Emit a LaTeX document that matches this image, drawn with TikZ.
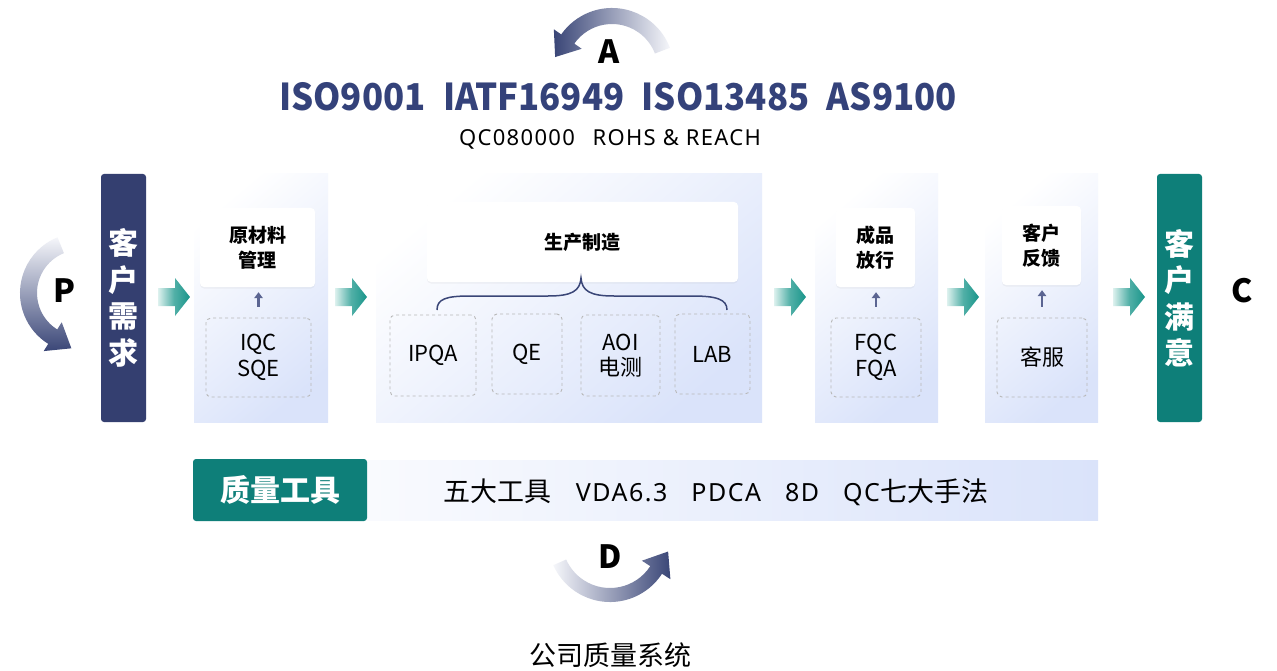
\documentclass[tikz,border=0pt]{standalone}
\usepackage{fontspec}
\setmainfont{Noto Sans CJK SC}
\newfontfamily\latf{Noto Sans}
\usetikzlibrary{calc,shadows,arrows.meta}
\definecolor{navy}{HTML}{343F70}
\definecolor{titlec}{HTML}{34427A}
\definecolor{tealbox}{HTML}{0E7F79}
\definecolor{chev}{HTML}{18958A}
\definecolor{chevl}{HTML}{DDF1EE}
\definecolor{panelb}{HTML}{DAE3FA}
\definecolor{arrowd}{HTML}{3A4677}
\definecolor{arrowl}{HTML}{F5F6FA}
\definecolor{dashc}{HTML}{B8B8B8}
\definecolor{bracec}{HTML}{3A4677}
\definecolor{uparr}{HTML}{5B6592}
\newcommand\fs[2]{\fontsize{#1}{#2}\selectfont}
\newcommand\lt[2]{{\latf\fontsize{#1}{#1}\selectfont\addfontfeatures{LetterSpace=6}#2}}
\newcommand\chevat[1]{\shade[left color=chevl, right color=chev, middle color=chev!75] (#1,-288) -- ++(17,0) -- ++(0,10) -- ++(15,-19) -- ++(-15,-19) -- ++(0,10) -- ++(-17,0) -- cycle;}
\newcommand\curvarrow[6]{%
 \pgfmathsetmacro\cRm{(#4+#5)/2}\pgfmathsetmacro\cRa{\cRm+17}\pgfmathsetmacro\cRb{\cRm-17}\pgfmathsetmacro\cAt{#3+90}%
 \shade[#6] ($(#1)+(#2:#4)$) arc[start angle=#2, end angle=#3, radius=#4] -- ($(#1)+(#3:\cRa)$) -- ($(#1)+(#3:\cRm)+(\cAt:22)$) -- ($(#1)+(#3:\cRb)$) -- ($(#1)+(#3:#5)$) arc[start angle=#3, end angle=#2, radius=#5] -- cycle;}
\begin{document}
\begin{tikzpicture}[x=1pt,y=1pt,
  panel/.style={shading=axis, top color=white, bottom color=panelb, shading angle=40, minimum height=248pt, inner sep=0pt},
  vbar/.style={rounded corners=3pt, minimum width=45pt, minimum height=248pt, text=white, align=center, inner sep=0pt, font=\fs{30}{36.5}\bfseries},
  wbox/.style={fill=white, rounded corners=4pt, align=center, inner sep=0pt, font=\fs{19}{25}\bfseries, drop shadow={shadow xshift=0pt, shadow yshift=-1.5pt, opacity=0.08}},
  dbox/.style={draw=dashc, dashed, line width=0.9pt, rounded corners=5pt, align=center, inner sep=0pt, font=\fs{22}{25.5}},
  uparrow/.style={draw=uparr, line width=2.8pt, -{Triangle[length=6pt,width=8.5pt]}, shorten <=11pt, shorten >=5pt},
  letter/.style={font=\fs{32}{32}\bfseries, inner sep=0pt}
]
\useasboundingbox (0,0) rectangle (1277,-671);
\fill[white] (0,0) rectangle (1277,-671);

% curved PDCA arrows
\coordinate (ca) at (612,-70);
\curvarrow{ca}{21}{145}{62}{46}{left color=arrowd, right color=arrowl}
\coordinate (cp) at (80,-293);
\curvarrow{cp}{112}{238}{60}{43}{top color=arrowl, bottom color=arrowd}
\coordinate (cd) at (610,-540);
\curvarrow{cd}{204}{327}{62}{48}{left color=arrowl, right color=arrowd}
\node[letter] (la) at (609,-52) {A};
\node[letter] (lp) at (64,-291) {P};
\node[letter] (lc) at (1242,-291) {C};
\node[letter] (ld) at (610,-557) {D};

% titles
\node[text=titlec, font=\fs{37}{37}\bfseries, inner sep=0pt, xscale=0.94] (std) at (618,-97) {ISO9001\hspace{0.5em}IATF16949\hspace{0.5em}ISO13485\hspace{0.5em}AS9100};
\node[inner sep=0pt] (std2) at (610,-139) {\lt{22}{QC080000\hspace{0.8em}ROHS \& REACH}};

% side bars
\node[vbar, fill=navy] (req) at (123.5,-298) {客\\户\\需\\求};
\node[vbar, fill=tealbox] (sat) at (1179.5,-298) {客\\户\\满\\意};

% panels
\node[panel, minimum width=134pt] (p1) at (261,-298) {};
\node[panel, minimum width=386pt] (p2) at (569,-298) {};
\node[panel, minimum width=123pt] (p3) at (876.5,-298) {};
\node[panel, minimum width=113pt] (p4) at (1041.5,-298) {};

% chevrons
\chevat{158}
\chevat{335}
\chevat{774}
\chevat{947}
\chevat{1113}

% white boxes
\node[wbox, minimum width=115pt, minimum height=79pt] (w1) at (257.5,-247.5) {原材料\\管理};
\node[wbox, minimum width=311pt, minimum height=80pt] (w2) at (582.5,-242) {生产制造};
\node[wbox, minimum width=79pt, minimum height=79pt] (w3) at (875.5,-247.5) {成品\\放行};
\node[wbox, minimum width=79pt, minimum height=79pt] (w4) at (1041.5,-245.5) {客户\\反馈};

% dashed boxes
\node[dbox, minimum width=105pt, minimum height=79pt] (d1) at (258.5,-357.5) {IQC\\SQE};
\node[dbox, minimum width=86pt, minimum height=81pt] (ipqa) at (433,-355.5) {IPQA};
\node[dbox, minimum width=70pt, minimum height=80pt] (qe) at (527,-354) {QE};
\node[dbox, minimum width=79pt, minimum height=81pt] (aoi) at (620.5,-355.5) {AOI\\电测};
\node[dbox, minimum width=75pt, minimum height=80pt] (lab) at (712.5,-354) {LAB};
\node[dbox, minimum width=90pt, minimum height=79pt] (d3) at (876,-357.5) {FQC\\FQA};
\node[dbox, minimum width=90pt, minimum height=79pt] (d4) at (1042,-357.5) {客服};

% up arrows
\draw[uparrow] (d1.north) -- (d1.north |- w1.south);
\draw[uparrow] (d3.north) -- (d3.north |- w3.south);
\draw[uparrow] (d4.north) -- (d4.north |- w4.south);

% brace
\draw[bracec, line width=1.5pt] (437,-310) .. controls (437,-299) and (446,-296) .. (470,-296) -- (548,-296) .. controls (572,-296) and (580,-291) .. (581,-278) .. controls (582,-291) and (590,-296) .. (614,-296) -- (692,-296) .. controls (716,-296) and (727,-299) .. (727,-310);

% quality tools bar
\node[shading=axis, left color=white!60!panelb!40, right color=panelb, minimum width=731pt, minimum height=60pt, inner sep=0pt] (toolbar) at (732.5,-490) {};
\node[fill=tealbox, rounded corners=3pt, minimum width=174pt, minimum height=62pt, inner sep=0pt, text=white, font=\fs{30}{30}\bfseries] (tools) at (280,-490) {质量工具};
\node[font=\fs{27}{27}, inner sep=0pt] (toollist) at (716,-492) {五大工具\hspace{24pt}\lt{25}{VDA6.3\hspace{24pt}PDCA\hspace{24pt}8D\hspace{24pt}QC}七大手法};

% caption
\node[font=\fs{27}{27}, inner sep=0pt] (cap) at (610,-655) {公司质量系统};
\end{tikzpicture}
\end{document}
